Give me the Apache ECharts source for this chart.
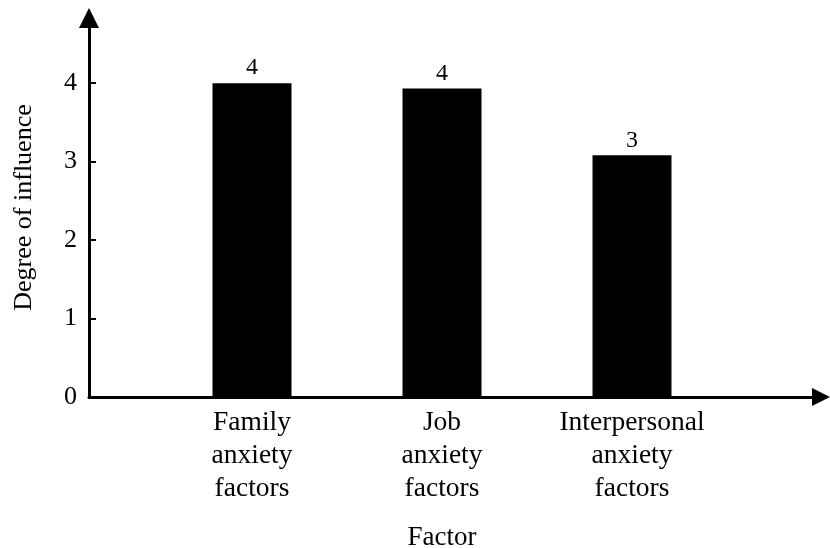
<!DOCTYPE html>
<html>
<head>
<meta charset="utf-8">
<script src="https://cdn.jsdelivr.net/npm/echarts@6/dist/echarts.min.js"></script>
<style>
  html, body { margin: 0; padding: 0; background: #fff; }
  #chart { width: 830px; height: 548px; }
</style>
</head>
<body>
<div id="chart"></div>
<script>
const categories = ['Family\nanxiety\nfactors', 'Job\nanxiety\nfactors', 'Interpersonal\nanxiety\nfactors'];
const values = [4.0, 3.93, 3.08];
const yTicks = [0, 1, 2, 3, 4];
const yMax = 4.83;
const xAxisName = 'Factor';
const yAxisName = 'Degree of influence';

const FONT = '"Liberation Serif", "Times New Roman", serif';
const chart = echarts.init(document.getElementById('chart'), null, { renderer: 'canvas' });

chart.setOption({
  backgroundColor: '#fff',
  animation: false,
  textStyle: { fontFamily: FONT, color: '#000' },
  grid: [
    { left: 157, width: 570, top: 18, bottom: 151, outerBoundsMode: 'none', containLabel: false },
    { left: 89, right: 9, top: 18, bottom: 151, outerBoundsMode: 'none', containLabel: false }
  ],
  xAxis: [
    {
      type: 'category', gridIndex: 0, data: categories,
      axisLine: { show: false }, axisTick: { show: false }, splitLine: { show: false },
      axisLabel: { interval: 0, margin: 9, fontFamily: FONT, fontSize: 27.5, lineHeight: 33, color: '#000' },
      name: xAxisName, nameLocation: 'middle', nameGap: 127,
      nameTextStyle: { fontFamily: FONT, fontSize: 27, color: '#000' }
    },
    {
      type: 'value', gridIndex: 1, min: 0, max: 1,
      axisLine: { show: true, symbol: ['none', 'triangle'], symbolSize: [18, 18], lineStyle: { color: '#000', width: 3 } },
      axisTick: { show: false }, axisLabel: { show: false }, splitLine: { show: false }
    }
  ],
  yAxis: [
    { type: 'value', gridIndex: 0, min: 0, max: yMax, show: false, splitLine: { show: false } },
    {
      type: 'value', gridIndex: 1, min: 0, max: yMax,
      axisLine: { show: true, symbol: ['none', 'triangle'], symbolSize: [20, 20], lineStyle: { color: '#000', width: 3 } },
      axisTick: { show: true, inside: true, length: 7, lineStyle: { color: '#000', width: 2 }, customValues: yTicks },
      axisLabel: { margin: 12, fontFamily: FONT, fontSize: 26, color: '#000', customValues: yTicks },
      splitLine: { show: false },
      name: yAxisName, nameLocation: 'middle', nameGap: 52, nameRotate: 90,
      nameTextStyle: { fontFamily: FONT, fontSize: 26, color: '#000' }
    }
  ],
  series: [
    {
      type: 'bar', xAxisIndex: 0, yAxisIndex: 0, data: values, barWidth: 79,
      itemStyle: { color: '#000' },
      label: {
        show: true, position: 'top', distance: 3,
        fontFamily: FONT, fontSize: 24, color: '#000',
        formatter: p => String(Math.round(p.value))
      }
    }
  ]
});
</script>
</body>
</html>
